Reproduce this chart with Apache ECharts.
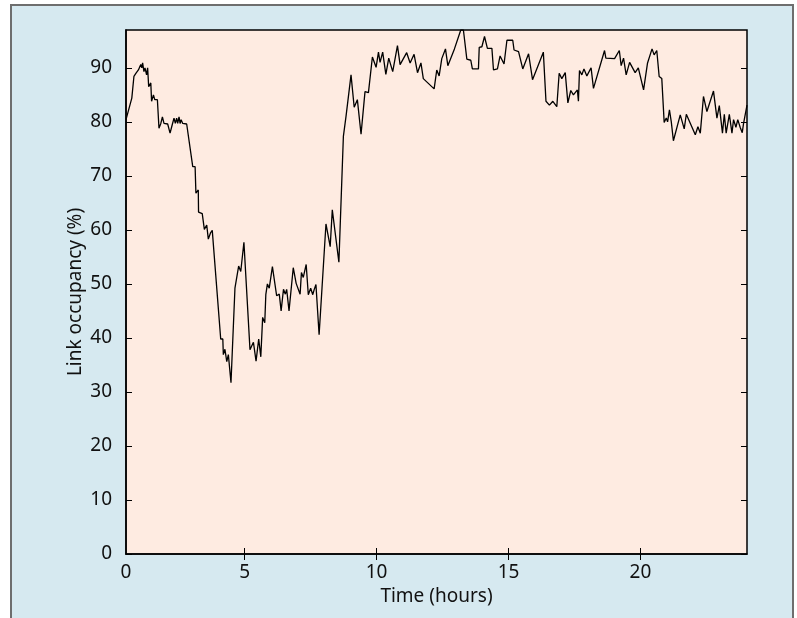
<!DOCTYPE html>
<html>
<head>
<meta charset="utf-8">
<script src="https://cdn.jsdelivr.net/npm/echarts@6/dist/echarts.min.js"></script>
<style>
  html, body { margin: 0; padding: 0; background: #fff; }
  #chart { width: 797px; height: 618px; }
</style>
</head>
<body>
<div id="chart"></div>
<script>
// time (hours) of each sample
const hours = [
  0.50, 0.72, 0.80, 0.88, 0.93, 0.97, 1.06, 1.10, 1.13, 1.18, 1.22, 1.28, 1.32, 1.36, 1.44, 1.47,
  1.54, 1.59, 1.64, 1.69, 1.75, 1.82, 1.88, 1.94, 2.08, 2.17, 2.26, 2.32, 2.37, 2.42, 2.46, 2.51,
  2.55, 2.59, 2.65, 2.80, 3.03, 3.12, 3.15, 3.24, 3.25, 3.39, 3.47, 3.56, 3.62, 3.71, 3.77, 4.09,
  4.17, 4.19, 4.25, 4.32, 4.38, 4.48, 4.63, 4.70, 4.77, 4.85, 4.97, 5.20, 5.33, 5.43, 5.53, 5.61,
  5.68, 5.76, 5.80, 5.86, 5.93, 6.05, 6.21, 6.31, 6.38, 6.47, 6.54, 6.59, 6.68, 6.84, 6.95, 7.10,
  7.15, 7.22, 7.33, 7.41, 7.50, 7.58, 7.63, 7.70, 7.82, 8.08, 8.24, 8.32, 8.57, 8.74, 8.84, 9.03,
  9.15, 9.27, 9.41, 9.56, 9.69, 9.84, 9.98, 10.07, 10.13, 10.23, 10.35, 10.46, 10.61, 10.79, 10.89, 11.14,
  11.27, 11.42, 11.55, 11.68, 11.77, 12.18, 12.28, 12.37, 12.47, 12.61, 12.70, 12.95, 13.19, 13.29, 13.42, 13.57,
  13.63, 13.86, 13.89, 13.99, 14.09, 14.20, 14.37, 14.43, 14.58, 14.68, 14.83, 14.94, 15.16, 15.21, 15.38, 15.54,
  15.76, 15.91, 16.32, 16.42, 16.55, 16.68, 16.83, 16.92, 17.02, 17.15, 17.25, 17.36, 17.46, 17.61, 17.65, 17.69,
  17.78, 17.86, 17.97, 18.13, 18.22, 18.64, 18.69, 19.02, 19.20, 19.27, 19.36, 19.46, 19.59, 19.80, 19.92, 20.12,
  20.27, 20.44, 20.52, 20.62, 20.71, 20.81, 20.90, 20.98, 21.03, 21.10, 21.17, 21.25, 21.51, 21.66, 21.74, 22.08,
  22.18, 22.27, 22.39, 22.52, 22.77, 22.90, 22.99, 23.11, 23.18, 23.25, 23.37, 23.47, 23.53, 23.62, 23.69, 23.78,
  23.86, 23.91, 24.04
];

// link occupancy (%) at each sample
const occupancy = [
  80.4, 84.4, 88.4, 89.0, 88.7, 89.6, 90.6, 90.0, 90.9, 89.3, 90.0, 88.7, 90.0, 86.5, 87.2, 83.8,
  85.0, 84.1, 84.4, 84.1, 78.8, 79.7, 80.9, 79.7, 79.6, 77.9, 79.6, 80.7, 79.7, 80.7, 79.7, 80.9,
  79.7, 80.4, 79.7, 79.6, 71.7, 71.7, 66.8, 67.4, 63.3, 63.0, 60.1, 60.9, 58.3, 59.5, 59.9, 39.8,
  39.8, 36.9, 37.9, 35.6, 36.9, 31.7, 49.2, 49.4, 53.3, 52.3, 57.7, 37.8, 39.2, 35.7, 39.8, 36.5,
  43.8, 42.8, 48.0, 50.0, 49.2, 53.2, 47.8, 48.1, 45.0, 49.0, 48.1, 49.0, 45.0, 53.0, 50.1, 48.1,
  52.1, 51.2, 53.6, 48.0, 49.2, 48.0, 48.9, 49.9, 40.6, 61.1, 56.9, 63.7, 54.0, 77.3, 81.0, 88.7,
  82.7, 84.1, 77.7, 85.6, 85.4, 92.0, 90.1, 92.9, 91.0, 92.9, 88.8, 91.8, 89.3, 94.1, 90.6, 92.8,
  90.9, 92.5, 89.1, 90.9, 88.0, 86.1, 89.6, 88.5, 91.7, 93.5, 90.4, 93.5, 97.0, 97.0, 91.6, 91.4,
  89.8, 89.8, 93.8, 93.9, 95.8, 93.6, 93.6, 89.6, 89.8, 92.2, 90.7, 95.1, 95.1, 93.3, 93.0, 89.8,
  92.6, 87.8, 92.9, 83.8, 83.1, 83.8, 82.8, 89.0, 88.0, 89.1, 83.5, 85.8, 85.0, 85.9, 83.8, 89.5,
  88.7, 89.8, 88.5, 90.0, 86.2, 93.2, 91.8, 91.7, 93.2, 90.4, 91.8, 88.7, 91.0, 89.1, 90.0, 85.9,
  90.9, 93.5, 92.4, 93.2, 88.4, 88.0, 79.9, 80.7, 80.0, 82.2, 80.0, 76.5, 81.3, 78.7, 81.4, 77.6,
  79.1, 77.9, 84.7, 81.9, 85.7, 80.7, 83.0, 77.9, 81.4, 77.9, 81.4, 77.9, 80.4, 79.0, 80.4, 79.0,
  78.0, 79.7, 83.1
];

// tick positions and labels
const xTickPos = [0.5, 5, 10, 15, 20];
const xTickText = ['0', '5', '10', '15', '20'];
const yTickPos = [0, 10, 20, 30, 40, 50, 60, 70, 80, 90];

const font = '"Noto Sans", "Open Sans", sans-serif';
const ink = '#111';

const chart = echarts.init(document.getElementById('chart'));
const option = {
  animation: false,
  backgroundColor: '#ffffff',
  graphic: [
    {
      type: 'rect',
      z: -10,
      silent: true,
      shape: { x: 11, y: 5, width: 782, height: 640 },
      style: { fill: '#d6e9f0', stroke: '#6e6e6e', lineWidth: 2 }
    }
  ],
  grid: {
    left: 126,
    top: 30,
    right: 50,
    bottom: 64,
    show: true,
    backgroundColor: '#feebe1',
    borderColor: '#000',
    borderWidth: 1.5
  },
  xAxis: [
    {
      type: 'value',
      min: 0.5,
      max: 24.04,
      name: 'Time (hours)',
      nameLocation: 'middle',
      nameGap: 33,
      nameMoveOverlap: false,
      nameTextStyle: { fontFamily: font, fontSize: 19, color: ink },
      axisLine: { show: true, onZero: false, lineStyle: { color: '#000', width: 1.5 } },
      axisTick: { show: true, inside: true, length: 6, customValues: [5, 10, 15, 20], lineStyle: { color: '#000' } },
      axisLabel: {
        fontFamily: font,
        fontSize: 19,
        color: ink,
        margin: 9,
        customValues: xTickPos,
        formatter: v => xTickText[xTickPos.indexOf(v)]
      },
      splitLine: { show: false }
    },
    {
      type: 'value',
      position: 'top',
      min: 0.5,
      max: 24.04,
      axisLine: { show: false },
      axisTick: { show: true, inside: true, length: 6, customValues: [5, 10, 15, 20], lineStyle: { color: '#000' } },
      axisLabel: { show: false },
      splitLine: { show: false }
    }
  ],
  yAxis: [
    {
      type: 'value',
      min: 0,
      max: 97,
      name: 'Link occupancy (%)',
      nameLocation: 'middle',
      nameGap: 41,
      nameMoveOverlap: false,
      nameTextStyle: { fontFamily: font, fontSize: 19, color: ink },
      axisLine: { show: true, onZero: false, lineStyle: { color: '#000', width: 1.5 } },
      axisTick: { show: true, inside: true, length: 6, customValues: yTickPos, lineStyle: { color: '#000' } },
      axisLabel: { fontFamily: font, fontSize: 19, color: ink, margin: 14, customValues: yTickPos },
      splitLine: { show: false }
    },
    {
      type: 'value',
      position: 'right',
      min: 0,
      max: 97,
      axisLine: { show: false },
      axisTick: { show: true, inside: true, length: 6, customValues: yTickPos, lineStyle: { color: '#000' } },
      axisLabel: { show: false },
      splitLine: { show: false }
    }
  ],
  series: [
    {
      type: 'line',
      xAxisIndex: 0,
      yAxisIndex: 0,
      data: hours.map((h, i) => [h, occupancy[i]]),
      showSymbol: false,
      symbol: 'none',
      lineStyle: { color: '#000', width: 1.3 }
    }
  ]
};
chart.setOption(option);
</script>
</body>
</html>
